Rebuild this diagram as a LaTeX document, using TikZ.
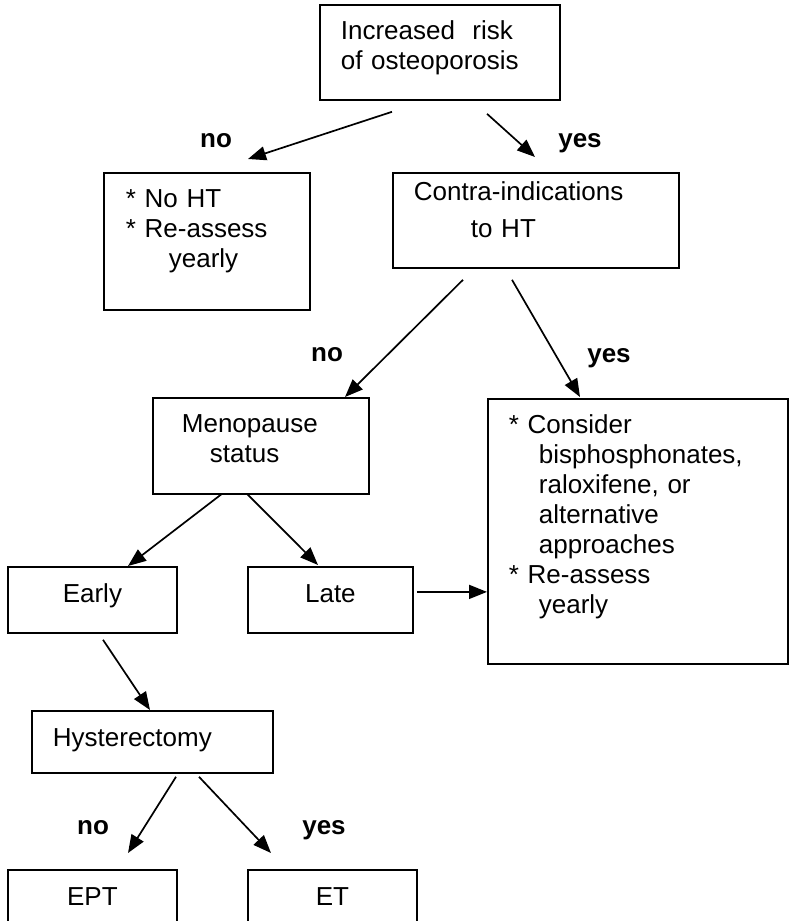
\documentclass[tikz,border=0pt]{standalone}
\usepackage{fontspec}
\setmainfont{Liberation Sans}
\usetikzlibrary{arrows.meta}

\begin{document}
\begin{tikzpicture}[x=0.5pt,y=-0.5pt,
  every node/.style={font=\fontsize{13}{15}\selectfont},
  box/.style={draw,line width=0.9pt,anchor=north west,inner ysep=0pt,align=left},
  lab/.style={anchor=base,font=\fontsize{13}{15}\selectfont\bfseries},
  arr/.style={-{Triangle[length=9pt,width=7pt]},line width=0.85pt}]
\useasboundingbox (0,0) rectangle (788,921);

\node[box,inner xsep=10.5pt,text width=99pt,text height=17.5pt,text depth=30pt] (1) at (319,4) {Increased~ risk\\of osteoporosis};
\node[box,inner xsep=11pt,text width=81pt,text height=17.5pt,text depth=51pt] (2) at (103,172) {* No HT\\{}* Re-assess\\\hspace*{21.5pt}yearly};
\node[box,inner xsep=10.5pt,text width=122pt,text height=14pt,text depth=33.5pt] (3) at (392,172) {Contra-indications\\[3.5pt]\hspace*{28.5pt}to HT};
\node[box,inner xsep=14.5pt,text width=79pt,text height=17.5pt,text depth=30.5pt] (4) at (152,397) {Menopause\\\hspace*{14pt}status};
\node[box,inner xsep=10.5pt,text width=129pt,text height=17.5pt,text depth=115pt] (5) at (487,398) {* Consider\\\hspace*{15pt}bisphosphonates,\\\hspace*{15pt}raloxifene, or\\\hspace*{15pt}alternative\\\hspace*{15pt}approaches\\{}* Re-assess\\\hspace*{15pt}yearly};
\node[box,align=center,inner xsep=0pt,text width=84.5pt,text height=18pt,text depth=15pt] (6) at (7,566) {Early};
\node[box,align=center,inner xsep=0pt,text width=82.5pt,text height=18pt,text depth=15pt] (7) at (247,566) {Late};
\node[box,inner xsep=10.5pt,text width=99.5pt,text height=18pt,text depth=13pt] (8) at (31,710) {Hysterectomy};
\node[box,align=center,inner xsep=0pt,text width=84.5pt,text height=18pt,text depth=12pt] (9) at (7,869) {EPT};
\node[box,align=center,inner xsep=0pt,text width=84.5pt,text height=18pt,text depth=12pt] (10) at (247,869) {ET};

\node[lab] (11) at (216,147) {no};
\node[lab] (12) at (580,147) {yes};
\node[lab] (13) at (327,361) {no};
\node[lab] (14) at (609,362) {yes};
\node[lab] (15) at (93,834) {no};
\node[lab] (16) at (324,834) {yes};

\coordinate (c) at ([shift={(3,-8)}]7.east);

\draw[arr] ([shift={(73,11)}]1.south west) -- ([shift={(145,-13)}]2.north west);
\draw[arr] ([shift={(168,13)}]1.south west) -- ([shift={(143,-15)}]3.north west);
\draw[arr] ([shift={(71,11)}]3.south west) -- ([shift={(193,0)}]4.north west);
\draw[arr] ([shift={(120,11)}]3.south west) -- ([shift={(93,-1)}]5.north west);
\draw[arr] ([shift={(70,-1)}]4.south west) -- ([shift={(121,0)}]6.north west);
\draw[arr] ([shift={(95,-1)}]4.south west) -- ([shift={(71,-1)}]7.north west);
\draw[arr] (c) -- (c -| 5.west);
\draw[arr] ([shift={(96,6)}]6.south west) -- ([shift={(119,0)}]8.north west);
\draw[arr] ([shift={(145,3)}]8.south west) -- ([shift={(121,-16)}]9.north west);
\draw[arr] ([shift={(168,3)}]8.south west) -- ([shift={(24,-16)}]10.north west);

\end{tikzpicture}
\end{document}
